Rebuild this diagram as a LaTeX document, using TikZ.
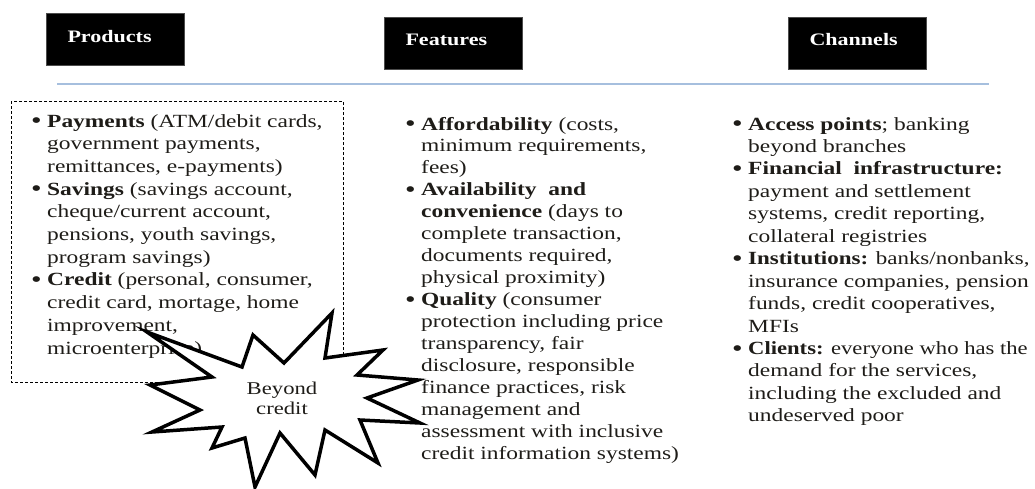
\documentclass[tikz,border=0pt]{standalone}
\usepackage{fontspec}
\setmainfont{Liberation Serif}[FakeStretch=1.26]
\usepackage{graphicx}
\usepackage{xcolor}
\usepackage{tikz}
\usetikzlibrary{positioning}
\definecolor{lineblue}{RGB}{166,191,222}
\definecolor{inktxt}{RGB}{30,28,24}
\newcommand{\bul}{\makebox[16pt][l]{\raisebox{-1.5pt}{\fontsize{24}{24}\selectfont\textbullet}}}

\begin{document}
\begin{tikzpicture}[x=1pt,y=-1pt,
    headbox/.style={draw=black!70, fill=black, text=white, font=\fontsize{17.5}{20}\selectfont\bfseries,
        inner xsep=21pt, text width=96pt, align=left, minimum height=52pt, text depth=7pt},
    bulletlist/.style={anchor=base west, inner sep=0pt, text=inktxt, font=\fontsize{18.6}{#1}\selectfont},
    starry/.style={draw=black, fill=white, line width=3.5pt, line join=miter}]
            \useasboundingbox (0,0) rectangle (1035,488);
            \draw (115.5,39.5) node[headbox]               (products) {Products};
            \draw (453.5,43) node[headbox]                 (features) {Features};
            \draw (857.5,43) node[headbox]                 (channels) {Channels};
            \draw[lineblue, line width=1.5pt] (57,84) -- (989,84);
            \draw[dash pattern=on 3pt off 2pt, line width=0.8pt] (11,101) rectangle (343,382);
            \draw (31,127) node[bulletlist=22.7]           (prodlist) {\begin{tabular}[t]{@{}l@{}l@{}}
                \bul & \textbf{Payments} (ATM/debit cards,\\
                     & government payments,\\
                     & remittances, e-payments)\\
                \bul & \textbf{Savings} (savings account,\\
                     & cheque/current account,\\
                     & pensions, youth savings,\\
                     & program savings)\\
                \bul & \textbf{Credit} (personal, consumer,\\
                     & credit card, mortage, home\\
                     & improvement,\\
                     & microenterprise)
                \end{tabular}};
            \draw (405,130) node[bulletlist=21.95]         (featlist) {\begin{tabular}[t]{@{}l@{}l@{}}
                \bul & \textbf{Affordability} (costs,\\
                     & minimum requirements,\\
                     & fees)\\
                \bul & \textbf{Availability\ \ and}\\
                     & \textbf{convenience} (days to\\
                     & complete transaction,\\
                     & documents required,\\
                     & physical proximity)\\
                \bul & \textbf{Quality} (consumer\\
                     & protection including price\\
                     & transparency, fair\\
                     & disclosure, responsible\\
                     & finance practices, risk\\
                     & management and\\
                     & assessment with inclusive\\
                     & credit information systems)
                \end{tabular}};
            \draw (732,130) node[bulletlist=22.45]         (chanlist) {\begin{tabular}[t]{@{}l@{}l@{}}
                \bul & \textbf{Access points}; banking\\
                     & beyond branches\\
                \bul & \textbf{Financial\ \ infrastructure:}\\
                     & payment and settlement\\
                     & systems, credit reporting,\\
                     & collateral registries\\
                \bul & \scalebox{0.98}[1]{\textbf{Institutions:} banks/nonbanks,}\\
                     & insurance companies, pension\\
                     & funds, credit cooperatives,\\
                     & MFIs\\
                \bul & \scalebox{0.965}[1]{\textbf{Clients:} everyone who has the}\\
                     & demand for the services,\\
                     & including the excluded and\\
                     & undeserved poor
                \end{tabular}};
            \draw[starry] (147,332) -- (242,367) -- (253,335) -- (284,363) -- (332,313) -- (325,358)
                -- (383,350) -- (357,375) -- (418,380) -- (367,398) -- (420,423) -- (360,420)
                -- (378,463) -- (325,430) -- (315,475) -- (280,433) -- (255,487) -- (245,438)
                -- (212,448) -- (222,427) -- (152,432) -- (200,410) -- (150,385) -- (212,377) -- cycle;
            \draw (282,398) node[align=center, text=inktxt, font=\fontsize{18}{20}\selectfont] (beyond) {Beyond\\credit};
\end{tikzpicture}
\end{document}
